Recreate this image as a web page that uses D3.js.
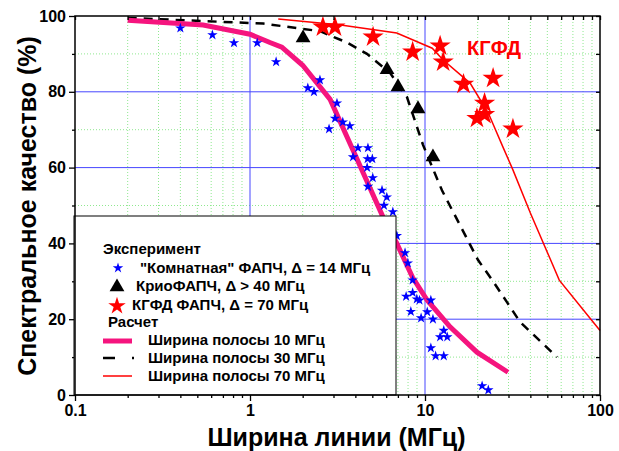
<!DOCTYPE html>
<html>
<head>
<meta charset="utf-8">
<script src="https://cdn.jsdelivr.net/npm/d3@7"></script>
<style>
  body { margin: 0; background: #fff; }
  text { font-family: Arial, "Liberation Sans", sans-serif; font-weight: bold; }
</style>
</head>
<body>
<div id="chart"></div>
<script>
// "Комнатная" ФАПЧ (blue stars)
const roomX = [0.4, 0.61, 0.81, 1.1, 1.41, 2.14, 2.32, 2.51, 3.14, 3.06, 3.39, 3.72, 2.83, 4.14, 4.72, 3.88, 4.7, 5.0,
  4.67, 5.03, 4.72, 5.68, 6.05, 5.83, 6.55, 6.9, 7.69, 7.98, 8.5, 7.8, 8.5, 8.98, 9.3, 10.8, 8.3, 10.3, 9.5, 11.1,
  12.8, 12.2, 13.4, 10.8, 11.5, 12.8, 21.2, 23.0];
const roomY = [96.8, 95, 92.9, 92.9, 87.9, 81, 80, 83.1, 77, 73, 72, 71, 70.2, 65.2, 65.2, 62.8, 62.3, 62.3,
  60, 57.3, 55, 54, 52.2, 50, 48.3, 42, 37.5, 34.8, 30.3, 26, 27, 25.3, 25, 25, 22, 21.9, 20.3, 20,
  17, 15.3, 15.3, 12.4, 10.3, 10.3, 2.4, 1.3];

// КриоФАПЧ (black triangles)
const cryoX = [2.01, 6.07, 7.01, 9.12, 11.1];
const cryoY = [94.2, 85.8, 81.3, 75.5, 62.8];

// КГФД ФАПЧ (red stars)
const kgfdX = [2.61, 3.06, 5.05, 8.5, 12.2, 12.7, 16.6, 24.5, 21.9, 19.8, 21.9, 31.8];
const kgfdY = [97.1, 97.1, 94.5, 90.5, 92.1, 87.9, 82, 83.6, 77, 73, 74, 70.2];

// Расчет
const band10X = [0.2, 0.54, 1.0, 1.3, 1.52, 2.0, 2.87, 3.88, 5.75, 6.9, 8.5, 10.3, 13.9, 19.8, 29.8];
const band10Y = [98.9, 97.6, 95.2, 93, 91.8, 87, 78, 64.6, 47, 40, 31, 25, 18, 11.3, 6];
const band30X = [0.2, 1.19, 2.51, 3.58, 4.66, 6.31, 7.89, 9.74, 12.5, 20.1, 24.5, 29.4, 34.9, 43.7, 56.8];
const band30Y = [99.5, 98, 96, 93, 90, 85, 78.6, 66, 54, 35.6, 30, 24.5, 19.3, 15, 10];
const band70X = [1.45, 3.3, 6.9, 11, 12.7, 18.1, 23, 27.9, 31.8, 40, 51.8, 58.5, 87.5, 100];
const band70Y = [99.2, 97.6, 95.5, 91.5, 88.4, 82.3, 74.4, 65.4, 59.4, 48, 36, 30.3, 20.3, 17];

const xTicks = [0.1, 1, 10, 100];
const yTicks = [0, 20, 40, 60, 80, 100];

const legendLabels = ['"Комнатная" ФАПЧ, Δ = 14 МГц', 'КриоФАПЧ, Δ > 40 МГц', 'КГФД ФАПЧ, Δ = 70 МГц',
  'Ширина полосы 10 МГц', 'Ширина полосы 30 МГц', 'Ширина полосы 70 МГц'];

const width = 619, height = 451;
const margin = { left: 75, right: 19, top: 16, bottom: 56 };
const innerW = width - margin.left - margin.right;
const innerH = height - margin.top - margin.bottom;

const svg = d3.select("#chart").append("svg")
  .attr("width", width).attr("height", height);

const x = d3.scaleLog().domain([0.1, 100]).range([0, innerW]);
const y = d3.scaleLinear().domain([0, 100]).range([innerH, 0]);

const g = svg.append("g").attr("transform", `translate(${margin.left},${margin.top})`);

const minorX = [];
for (const dec of [0.1, 1, 10]) for (let k = 2; k <= 9; k++) minorX.push(dec * k);
const minorY = [10, 30, 50, 70, 90];

// minor grid
g.selectAll(".gx-minor").data(minorX).enter().append("line")
  .attr("x1", d => x(d)).attr("x2", d => x(d)).attr("y1", 0).attr("y2", innerH)
  .attr("stroke", "#8fe88f").attr("stroke-width", 1).attr("stroke-dasharray", "1,2");
g.selectAll(".gy-minor").data(minorY).enter().append("line")
  .attr("y1", d => y(d)).attr("y2", d => y(d)).attr("x1", 0).attr("x2", innerW)
  .attr("stroke", "#8fe88f").attr("stroke-width", 1).attr("stroke-dasharray", "1,2");

// major grid
g.selectAll(".gx-major").data([1, 10]).enter().append("line")
  .attr("x1", d => x(d)).attr("x2", d => x(d)).attr("y1", 0).attr("y2", innerH)
  .attr("stroke", "#4646ff").attr("stroke-width", 1);
g.selectAll(".gy-major").data([20, 40, 60, 80]).enter().append("line")
  .attr("y1", d => y(d)).attr("y2", d => y(d)).attr("x1", 0).attr("x2", innerW)
  .attr("stroke", "#4646ff").attr("stroke-width", 1);

// calculated curves
const zip = (xs, ys) => xs.map((v, i) => [v, ys[i]]);
const line = d3.line().x(d => x(d[0])).y(d => y(d[1]));

g.append("path").datum(zip(band70X, band70Y))
  .attr("fill", "none").attr("stroke", "#ff0000").attr("stroke-width", 1.5).attr("d", line);
g.append("path").datum(zip(band30X, band30Y))
  .attr("fill", "none").attr("stroke", "#000").attr("stroke-width", 2.5)
  .attr("stroke-dasharray", "9,7").attr("d", line);
g.append("path").datum(zip(band10X, band10Y))
  .attr("fill", "none").attr("stroke", "#f5147e").attr("stroke-width", 5).attr("d", line);

// experimental points
const smallStar = d3.symbol().type(d3.symbolStar).size(34);
const bigStar = d3.symbol().type(d3.symbolStar).size(140);
const tri = d3.symbol().type(d3.symbolTriangle).size(95);

g.selectAll(".room").data(zip(roomX, roomY)).enter().append("path")
  .attr("d", smallStar).attr("fill", "#0000ff")
  .attr("transform", d => `translate(${x(d[0])},${y(d[1])})`);
g.selectAll(".cryo").data(zip(cryoX, cryoY)).enter().append("path")
  .attr("d", tri).attr("fill", "#000")
  .attr("transform", d => `translate(${x(d[0])},${y(d[1])})`);
g.selectAll(".kgfd").data(zip(kgfdX, kgfdY)).enter().append("path")
  .attr("d", bigStar).attr("fill", "#ff0000")
  .attr("transform", d => `translate(${x(d[0])},${y(d[1])})`);

g.append("text").attr("x", x(17.4)).attr("y", y(89.7))
  .attr("fill", "#ff0000").attr("font-size", 20).text("КГФД");

// axes
const fmt = d => d3.format("~g")(d);
const bottom = g.append("g").attr("transform", `translate(0,${innerH})`)
  .call(d3.axisBottom(x).tickValues(xTicks).tickFormat(fmt).tickSize(6));
g.append("g").attr("transform", `translate(0,${innerH})`)
  .call(d3.axisBottom(x).tickValues(minorX).tickFormat("").tickSize(3));
const left = g.append("g")
  .call(d3.axisLeft(y).tickValues(yTicks).tickSize(6));
g.append("g").call(d3.axisLeft(y).tickValues(minorY).tickFormat("").tickSize(3));
g.append("g").call(d3.axisTop(x).tickValues(xTicks.concat(minorX)).tickFormat("").tickSize(-4));
g.append("g").attr("transform", `translate(${innerW},0)`)
  .call(d3.axisRight(y).tickValues(yTicks.concat(minorY)).tickFormat("").tickSize(-4));

g.selectAll(".domain").remove();
g.selectAll(".tick line").attr("stroke", "#000").attr("stroke-width", 1.3);
bottom.selectAll("text").attr("font-size", 16).attr("fill", "#000").attr("dy", "0.71em").attr("y", 10);
left.selectAll("text").attr("font-size", 16).attr("fill", "#000").attr("x", -9);

// legend
const lg = g.append("g").attr("transform", `translate(${74 - margin.left},${216 - margin.top})`);
lg.append("rect").attr("width", 322).attr("height", 179)
  .attr("fill", "#fff").attr("stroke", "#000").attr("stroke-width", 1);
const fs = 15;
lg.append("text").attr("x", 29).attr("y", 38).attr("font-size", fs).text("Эксперимент");
lg.append("path").attr("d", smallStar).attr("fill", "#0000ff").attr("transform", "translate(44,52)");
lg.append("text").attr("x", 66).attr("y", 57).attr("font-size", fs).text(legendLabels[0]);
lg.append("path").attr("d", tri).attr("fill", "#000").attr("transform", "translate(43,71)");
lg.append("text").attr("x", 62).attr("y", 75).attr("font-size", fs).text(legendLabels[1]);
lg.append("path").attr("d", d3.symbol().type(d3.symbolStar).size(95)).attr("fill", "#ff0000").attr("transform", "translate(43,90)");
lg.append("text").attr("x", 58).attr("y", 94).attr("font-size", fs).text(legendLabels[2]);
lg.append("text").attr("x", 34).attr("y", 111).attr("font-size", fs).text("Расчет");
lg.append("line").attr("x1", 29).attr("x2", 58).attr("y1", 125).attr("y2", 125)
  .attr("stroke", "#f5147e").attr("stroke-width", 5);
lg.append("text").attr("x", 74).attr("y", 129).attr("font-size", fs).text(legendLabels[3]);
lg.append("line").attr("x1", 29).attr("x2", 60).attr("y1", 142).attr("y2", 142)
  .attr("stroke", "#000").attr("stroke-width", 2.5).attr("stroke-dasharray", "12,17");
lg.append("text").attr("x", 74).attr("y", 147).attr("font-size", fs).text(legendLabels[4]);
lg.append("line").attr("x1", 29).attr("x2", 58).attr("y1", 160).attr("y2", 160)
  .attr("stroke", "#ff0000").attr("stroke-width", 1.5);
lg.append("text").attr("x", 74).attr("y", 165).attr("font-size", fs).text(legendLabels[5]);

// frame
g.append("rect").attr("width", innerW).attr("height", innerH)
  .attr("fill", "none").attr("stroke", "#000").attr("stroke-width", 1.5);

// axis titles
svg.append("text").attr("x", margin.left + innerW / 2 - 1).attr("y", 446)
  .attr("text-anchor", "middle").attr("font-size", 25).text("Ширина линии (МГц)");
svg.append("text").attr("transform", "translate(36,206) rotate(-90)")
  .attr("text-anchor", "middle").attr("font-size", 25).text("Спектральное качество (%)");
</script>
</body>
</html>
